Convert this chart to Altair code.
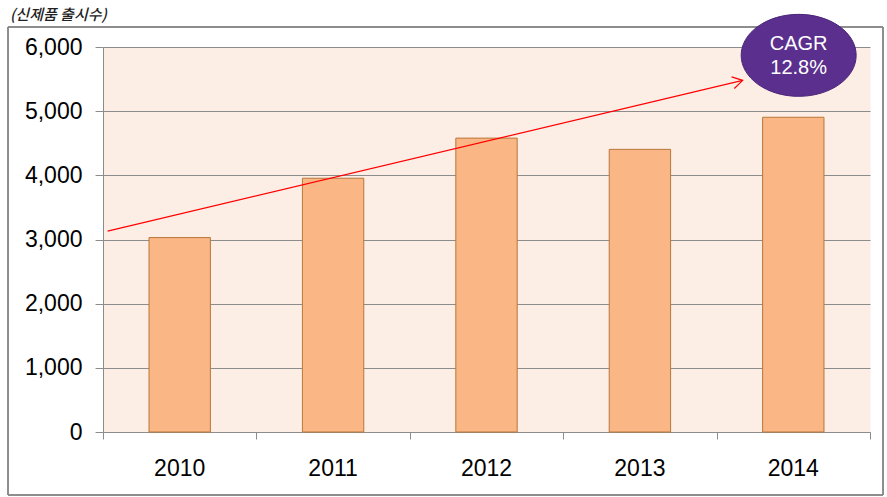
import altair as alt
import pandas as pd

# ---- data ----
years = ["2010", "2011", "2012", "2013", "2014"]
launches = [3030, 3955, 4580, 4405, 4905]

# trend arrow (position along the category axis in band units, value)
arrow_pos = [0.03, 4.17]
arrow_val = [3130, 5480]

# CAGR badge
badge_pos = [4.535]
badge_val = [5870]
badge_text = ["CAGR\n12.8%"]

unit_label = ["(신제품 출시수)"]

y_ticks = [0, 1000, 2000, 3000, 4000, 5000, 6000]
x_edges = [0, 1, 2, 3, 4, 5]

bars_df = pd.DataFrame({"year": years, "value": launches})
arrow_df = pd.DataFrame({"pos": arrow_pos, "value": arrow_val})
head_df = arrow_df.iloc[[-1]]
badge_df = pd.DataFrame({"pos": badge_pos, "value": badge_val, "label": badge_text})
unit_df = pd.DataFrame({"t": unit_label})

W, H = 767, 385
FONT = "Liberation Sans"
GRID = "#8c8c8c"

yscale = alt.Scale(domain=[0, 6000], nice=False)
yaxis = alt.Axis(
    values=y_ticks, format=",d", labelFontSize=23, labelFont=FONT, labelColor="#000",
    labelPadding=13, tickSize=8, tickColor=GRID, domainColor=GRID, gridColor=GRID,
    grid=True, title=None,
)

frame = alt.Chart(bars_df).mark_rect(fill="transparent", stroke="#8a8a8a", strokeWidth=1).encode(
    x=alt.value(-95), x2=alt.value(780), y=alt.value(-20), y2=alt.value(448)
)

unit = alt.Chart(unit_df).mark_text(
    font="Noto Sans CJK KR", fontSize=15, fontStyle="italic", fontWeight=500, color="#222222",
    align="left", baseline="middle"
).encode(x=alt.value(-93), y=alt.value(-32), text="t:N")

bars = alt.Chart(bars_df).mark_bar(
    fill="#FAB684", stroke="#B8773A", strokeWidth=1
).encode(
    x=alt.X("year:N", sort=years,
            scale=alt.Scale(paddingInner=0.6, paddingOuter=0.3),
            axis=alt.Axis(orient="bottom", labelAngle=0, labelFontSize=23, labelFont=FONT,
                          labelColor="#000", ticks=False, domain=False, labelPadding=36,
                          labelBaseline="middle", title=None)),
    y=alt.Y("value:Q", scale=yscale, axis=yaxis),
)

xq = alt.Scale(domain=[0, 5], nice=False, zero=False)

edge_axis = alt.Axis(orient="bottom", values=x_edges, labels=False, grid=False,
                     tickSize=7, tickColor=GRID, domainColor=GRID, title=None)

line = alt.Chart(arrow_df).mark_line(color="#FF0000", strokeWidth=1.2).encode(
    x=alt.X("pos:Q", scale=xq, axis=edge_axis),
    y=alt.Y("value:Q", scale=yscale),
)

head = alt.Chart(head_df).mark_point(
    shape="M-1,-0.6 L0,0 L-1,0.6", filled=False, stroke="#FF0000", strokeWidth=1.2,
    size=400, angle=346.6, opacity=1
).encode(
    x=alt.X("pos:Q", scale=xq),
    y=alt.Y("value:Q", scale=yscale),
)

ellipse = alt.Chart(badge_df).mark_point(
    shape="M-1,0 A1,0.713 0 1,1 1,0 A1,0.713 0 1,1 -1,0 Z",
    filled=True, fill="#5B2F8E", stroke="#4A2478", strokeWidth=1, size=13225, opacity=1
).encode(
    x=alt.X("pos:Q", scale=xq),
    y=alt.Y("value:Q", scale=yscale),
)

badge_label = alt.Chart(badge_df).mark_text(
    color="white", font=FONT, fontSize=20, lineBreak="\n", lineHeight=24,
    align="center", baseline="middle", dy=-11
).encode(
    x=alt.X("pos:Q", scale=xq),
    y=alt.Y("value:Q", scale=yscale),
    text="label:N",
)

annot = alt.layer(line, head, ellipse, badge_label)

chart = alt.layer(frame, unit, bars, annot).resolve_scale(x="independent").properties(
    width=W, height=H,
    autosize=alt.AutoSizeParams(type="none"),
    padding={"left": 103, "top": 47, "right": 17, "bottom": 65},
).configure_view(fill="#FDEEE5", stroke="transparent")

chart.save("out.html", embed_options={"renderer": "svg", "actions": False})
